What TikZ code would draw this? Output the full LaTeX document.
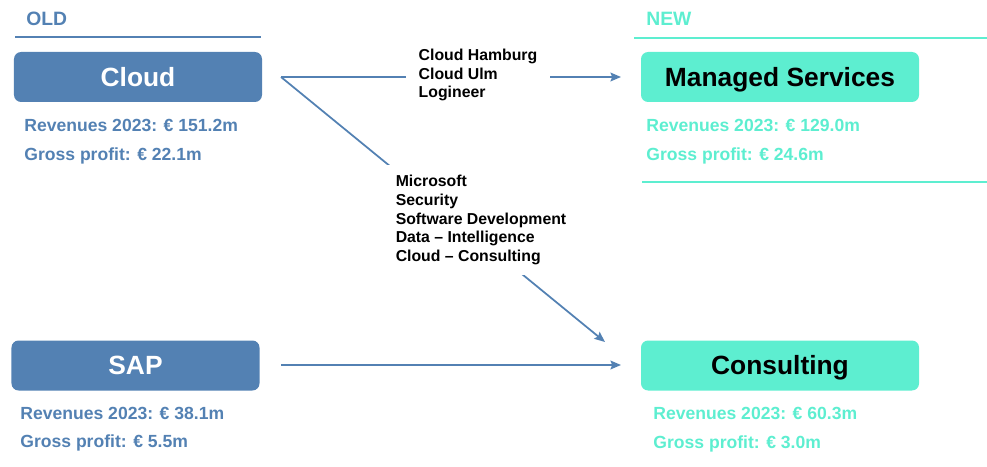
\documentclass[tikz,border=0pt]{standalone}
\usepackage{fontspec}
\setmainfont{Liberation Sans}
\usepackage{tikz}
\usetikzlibrary{arrows.meta,positioning}
\definecolor{oldblue}{HTML}{5381B3}
\definecolor{newteal}{HTML}{5DEED0}

\begin{document}
\begin{tikzpicture}[x=0.2mm, y=-0.2mm,
        oldbox/.style={rectangle, rounded corners=4pt, fill=oldblue, text=white, minimum width=49.6mm, minimum height=10mm, inner sep=0pt, text height=10.7pt, text depth=0pt, font=\fontsize{15}{18}\selectfont\bfseries},
        newbox/.style={rectangle, rounded corners=4pt, fill=newteal, text=black, minimum width=55.6mm, minimum height=10mm, inner sep=0pt, text height=10.7pt, text depth=0pt, font=\fontsize{15}{18}\selectfont\bfseries},
        header/.style={anchor=west, inner sep=0pt, font=\fontsize{11}{13}\selectfont\bfseries},
        figure/.style={anchor=west, inner sep=0pt, font=\fontsize{10}{12}\selectfont\bfseries},
        moved/.style={fill=white, align=left, inner xsep=7pt, inner ysep=6pt, font=\fontsize{9}{10.6}\selectfont\bfseries},
        arrow/.style={-{Stealth[length=6pt, width=5pt, inset=1pt]}, oldblue, line width=1pt}
    ]
        \useasboundingbox (0,0) rectangle (987,467);

        % Headers
        \node[header, text=oldblue] (old) at (26,19) {OLD};
        \node[header, text=newteal] (new) at (646,19) {NEW};
        \draw[oldblue, line width=1.2pt] (15,37) -- (261,37);
        \draw[newteal, line width=1.2pt] (634,38) -- (987,38);
        \draw[newteal, line width=1.2pt] (642,182) -- (987,182);

        % Old units
        \node[oldbox] (cloud) at (138,77) {Cloud};
        \node[oldbox] (sap) at (135.5,365.5) {SAP};
        \node[figure, text=oldblue] (cloudrev) at (24,125) {Revenues 2023: € 151.2m};
        \node[figure, text=oldblue] (cloudgp) at (24,156) {Gross profit: € 22.1m};
        \node[figure, text=oldblue] (saprev) at (20,413) {Revenues 2023: € 38.1m};
        \node[figure, text=oldblue] (sapgp) at (20,443) {Gross profit: € 5.5m};

        % New units
        \node[newbox] (managed) at (780,77) {Managed Services};
        \node[newbox] (consulting) at (780,365.5) {Consulting};
        \node[figure, text=newteal] (managedrev) at (646,125) {Revenues 2023: € 129.0m};
        \node[figure, text=newteal] (managedgp) at (646,156) {Gross profit: € 24.6m};
        \node[figure, text=newteal] (consultrev) at (653,413) {Revenues 2023: € 60.3m};
        \node[figure, text=newteal] (consultgp) at (653,444) {Gross profit: € 3.0m};

        % Ends of the moves
        \coordinate (cloudout) at (281,77);
        \coordinate (sapout) at (281,365);
        \coordinate (managedin) at (621,77);
        \coordinate (consultin) at (605,342);
        \coordinate (consultin2) at (621,365);

        % Moves
        \draw[arrow] (cloudout) -- (managedin);
        \draw[arrow] (cloudout) -- (consultin);
        \draw[arrow] (sapout) -- (consultin2);

        % Moved units (cover the lines)
        \node[moved] (tomanaged) at (478,75) {Cloud Hamburg\\Cloud Ulm\\Logineer};
        \node[moved] (toconsult) at (481,220) {Microsoft\\Security\\Software Development\\Data – Intelligence\\Cloud – Consulting};

    \end{tikzpicture}
\end{document}
